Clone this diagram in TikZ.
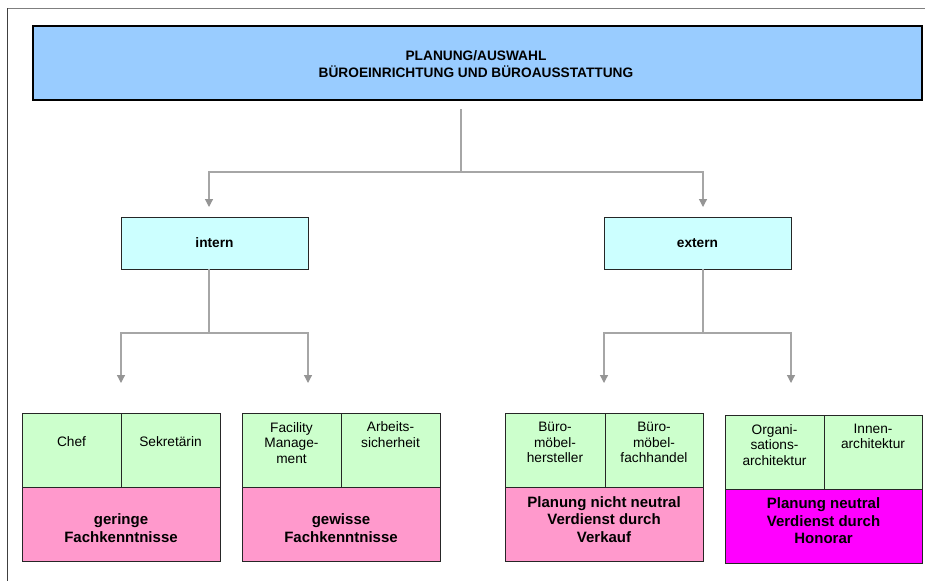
\documentclass[tikz,border=0pt]{standalone}
\usepackage{fontspec}
\setmainfont{Liberation Sans}
\usetikzlibrary{arrows.meta}
\definecolor{topblue}{HTML}{99CCFF}
\definecolor{lightcyan}{HTML}{CCFFFF}
\definecolor{cellgreen}{HTML}{CCFFCC}
\definecolor{cellpink}{HTML}{FF99CC}
\definecolor{cellmagenta}{HTML}{FF00FF}
\definecolor{linegray}{HTML}{A6A6A6}
\definecolor{framegray}{HTML}{7F7F7F}
\tikzset{
  conn/.style={draw=linegray, line width=1.2pt},
  arr/.style={conn, -{Triangle[width=8pt,length=8pt,color=linegray!90!black]}},
  cell/.style={draw=black!85, line width=0.8pt, inner sep=0pt, outer sep=0pt, anchor=north west},
  greencell/.style={cell, fill=cellgreen, minimum height=74pt},
  pinkcell/.style={cell, fill=cellpink, minimum width=198pt, minimum height=74pt},
  magcell/.style={cell, fill=cellmagenta, minimum width=198pt, minimum height=74pt},
  midbox/.style={cell, fill=lightcyan, minimum width=187pt, minimum height=52pt},
  txt/.style={align=center, font=\fontsize{13.7}{15.5}\selectfont, inner sep=0pt},
  btxt/.style={align=center, font=\bfseries\fontsize{15}{17.5}\selectfont, inner sep=0pt},
  mtxt/.style={align=center, font=\bfseries\fontsize{13.7}{16}\selectfont, inner sep=0pt},
}
\begin{document}
\begin{tikzpicture}[x=1pt,y=-1pt]
\useasboundingbox (0,0) rectangle (925,581);
% frame
\draw[framegray, line width=1.5pt] (7,8.5) -- (925,8.5);
\draw[black!75, line width=1pt] (7.3,8) -- (7.3,581);
% top box
\node[cell, fill=topblue, draw=black, line width=1.6pt, minimum width=889pt, minimum height=74pt] (top) at (33,26) {};
\node[mtxt, font=\bfseries\fontsize{13.7}{17}\selectfont] (toptext) at (476,64.5) {PLANUNG/AUSWAHL\\BÜROEINRICHTUNG UND BÜROAUSSTATTUNG};
% middle boxes
\node[midbox] (intern) at (121,217) {};
\node[mtxt] (interntext) at (intern.center) {intern};
\node[midbox] (extern) at (604,217) {};
\node[mtxt] (externtext) at (extern.center) {extern};
% junction coordinates
\coordinate (topstem) at (461,109);
\coordinate (topjoin) at (461,172);
\coordinate (ain) at (209,207);
\coordinate (aex) at (703,207);
\coordinate (injoin) at (209,333);
\coordinate (exjoin) at (703,333);
\coordinate (a1) at (121,383);
\coordinate (a2) at (308,383);
\coordinate (a3) at (604,383);
\coordinate (a4) at (791,383);
% connectors
\draw[arr] (topstem) -- (topjoin) -| (ain);
\draw[arr] (topjoin) -| (aex);
\draw[arr] (intern.south -| injoin) -- (injoin) -| (a1);
\draw[arr] (injoin) -| (a2);
\draw[arr] (extern.south -| exjoin) -- (exjoin) -| (a3);
\draw[arr] (exjoin) -| (a4);
% group 1
\node[greencell, minimum width=99pt] (g1a) at (22,413) {};
\node[greencell, minimum width=99pt] (g1b) at (121,413) {};
\node[pinkcell] (g1c) at (22,487) {};
\node[txt] (t1a) at (71.5,442) {Chef};
\node[txt] (t1b) at (170.5,442) {Sekretärin};
\node[btxt] (t1c) at (121,528) {geringe\\Fachkenntnisse};
% group 2
\node[greencell, minimum width=99pt] (g2a) at (242,413) {};
\node[greencell, minimum width=99pt] (g2b) at (341,413) {};
\node[pinkcell] (g2c) at (242,487) {};
\node[txt] (t2a) at (291.5,443) {Facility\\Manage-\\ment};
\node[txt] (t2b) at (390.5,434.5) {Arbeits-\\sicherheit};
\node[btxt] (t2c) at (341,528) {gewisse\\Fachkenntnisse};
% group 3
\node[greencell, minimum width=100pt] (g3a) at (505,413) {};
\node[greencell, minimum width=98pt] (g3b) at (605,413) {};
\node[pinkcell] (g3c) at (505,487) {};
\node[txt] (t3a) at (555,442.5) {Büro-\\möbel-\\hersteller};
\node[txt] (t3b) at (654,442.5) {Büro-\\möbel-\\fachhandel};
\node[btxt] (t3c) at (604,519.5) {Planung nicht neutral\\Verdienst durch\\Verkauf};
% group 4
\node[greencell, minimum width=99pt] (g4a) at (725,415) {};
\node[greencell, minimum width=98pt] (g4b) at (824,415) {};
\node[magcell, minimum width=197pt] (g4c) at (725,489) {};
\node[txt] (t4a) at (774.5,445) {Organi-\\sations-\\architektur};
\node[txt] (t4b) at (873,436.5) {Innen-\\architektur};
\node[btxt] (t4c) at (823.5,521) {Planung neutral\\Verdienst durch\\Honorar};
\end{tikzpicture}
\end{document}
